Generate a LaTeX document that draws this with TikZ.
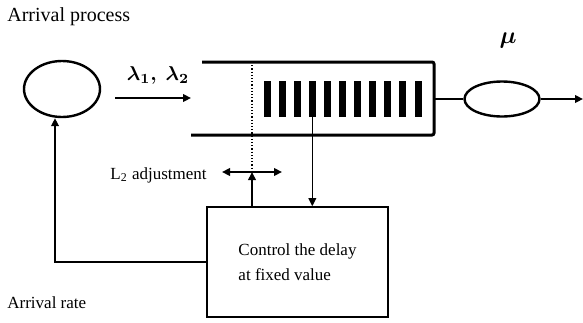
\documentclass[tikz,border=0pt]{standalone}
\usepackage{fontspec}
\setmainfont{Liberation Serif}
\usepackage{amsmath}
\usetikzlibrary{arrows.meta,shapes.geometric}

\begin{document}
\begin{tikzpicture}[x=0.5pt,y=-0.5pt,
  tip/.style={-{Triangle[length=4pt,width=3.8pt]}},
  lbl/.style={font=\fontsize{8.5}{12.5}\selectfont,inner sep=0pt},
  server/.style={draw,ellipse,line width=1.2pt,inner sep=0pt},
  bar/.style={fill=black,inner sep=0pt,minimum width=3.5pt,minimum height=18pt}]
\useasboundingbox (0,0) rectangle (583,322);
\node[lbl,font=\fontsize{10}{12}\selectfont,anchor=base west] (ttl) at (7,21) {Arrival process};
\node[lbl,anchor=base west] (rate) at (7,308) {Arrival rate};
\node[server,minimum width=38pt,minimum height=28pt] (src) at (62,89) {};
\node[server,minimum width=37.5pt,minimum height=17.5pt] (srv) at (502,99) {};
\node[font=\large] (mu) at (508,40) {$\boldsymbol{\mu}$};
\node (lam) at (158,75) {$\boldsymbol{\lambda_1,\ \lambda_2}$};
\coordinate (in1) at (115,98);
\coordinate (in2) at (191,98);
\draw[tip,line width=1.4pt] (in1) -- (in2);
\coordinate (qtl) at (202,62);
\coordinate (qtr) at (434,62);
\coordinate (qbr) at (434,135);
\coordinate (qbl) at (191,135);
\draw[line width=1.5pt,rounded corners=1pt] (qtl) -- (qtr) -- (qbr) -- (qbl);
\foreach \i in {0,...,10}
  \node[bar] (b\i) at (267+15.1*\i,99) {};
\draw[line width=1.2pt] (qbr |- srv) -- (srv.west);
\coordinate (out) at (583,99);
\draw[tip,line width=1.2pt] (srv.east) -- (out);
\node[lbl,draw,line width=0.8pt,minimum width=90.5pt,minimum height=55pt,align=left] (ctrl) at (297.5,262) {Control the delay\\at fixed value};
\draw[tip,line width=0.7pt] (b3.south) -- (b3.south |- ctrl.north);
\coordinate (adj) at (252,172);
\draw[densely dotted,line width=0.6pt] (qtl -| adj) -- (adj);
\draw[tip,line width=0.8pt] (ctrl.north -| adj) -- (adj);
\coordinate (adjl) at (222,172);
\coordinate (adjr) at (282,172);
\draw[{Triangle[length=4pt,width=3.8pt]}-{Triangle[length=4pt,width=3.8pt]},line width=0.9pt] (adjl) -- (adjr);
\node[lbl,anchor=base east] (l2) at (207,179) {L\textsubscript{2} adjustment};
\coordinate (fb) at (55,262);
\draw[tip,line width=1.4pt] (ctrl.west |- fb) -- (fb) -- (fb |- src.south);
\end{tikzpicture}
\end{document}
